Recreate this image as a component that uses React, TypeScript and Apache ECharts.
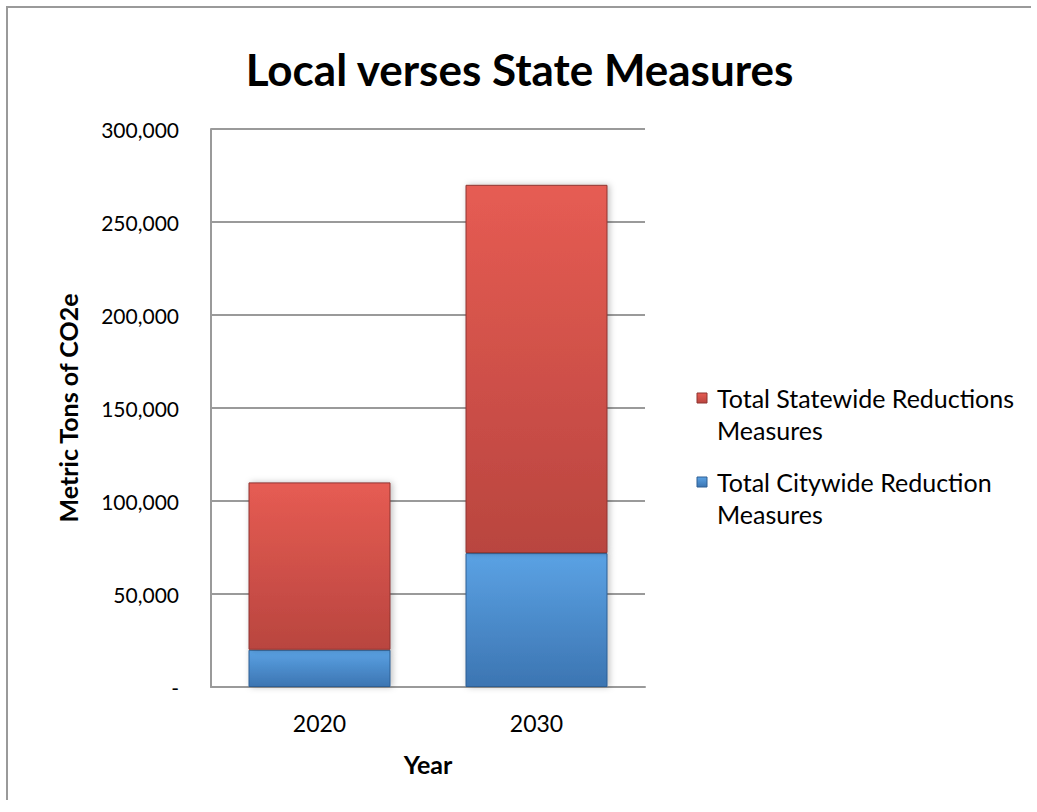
import React, { useEffect, useRef } from "react";
import * as echarts from "echarts";

const years = ["2020", "2030"];
const citywide = [20000, 72000];
const statewide = [90000, 198000];
const seriesNames = ["Total Statewide Reductions Measures", "Total Citywide Reduction Measures"];
const legendLines = [
  ["Total Statewide Reductions", "Measures"],
  ["Total Citywide Reduction", "Measures"],
];

const FONT = "Lato, 'Open Sans', sans-serif";

function grad(top: string, bottom: string) {
  return new echarts.graphic.LinearGradient(0, 0, 0, 1, [
    { offset: 0, color: top },
    { offset: 1, color: bottom },
  ]);
}

const redFill = () => grad("#e65c53", "#b9453f");
const blueFill = () => grad("#5ba2e4", "#3c75b2");

export default function App() {
  const ref = useRef<HTMLDivElement>(null);
  useEffect(() => {
    if (!ref.current) return;
    const chart = echarts.init(ref.current, null, { renderer: "svg" });
    const legendFills = [redFill(), blueFill()];
    const legendBorders = ["#8e3531", "#2f5f93"];
    const legendGraphics: any[] = [];
    legendLines.forEach((lines, i) => {
      const y0 = 390 + i * 84;
      legendGraphics.push({
        type: "rect",
        shape: { x: 689, y: y0 - 5, width: 10, height: 10 },
        style: { fill: legendFills[i], stroke: legendBorders[i], lineWidth: 1 },
      });
      legendGraphics.push({
        type: "text",
        x: 709,
        y: y0 - 16,
        style: {
          text: lines.join("\n"),
          font: `25px ${FONT}`,
          fill: "#000",
          lineHeight: 32,
          verticalAlign: "top",
        },
      });
    });
    chart.setOption({
      animation: false,
      backgroundColor: "#fff",
      graphic: legendGraphics,
      title: {
        text: "Local verses State Measures",
        left: "center",
        top: 34,
        textStyle: { fontFamily: FONT, fontSize: 44, fontWeight: "bold", color: "#000" },
      },
      grid: { left: 203, right: 386, top: 121, bottom: 113, containLabel: false },
      xAxis: {
        type: "category",
        data: years,
        name: "Year",
        nameLocation: "middle",
        nameGap: 64,
        nameTextStyle: { fontFamily: FONT, fontSize: 25, fontWeight: "bold", color: "#000" },
        axisLine: { lineStyle: { color: "#9a9a9a", width: 2 } },
        axisTick: { show: false },
        axisLabel: { fontFamily: FONT, fontSize: 23, color: "#000", margin: 24 },
      },
      yAxis: {
        type: "value",
        min: 0,
        max: 300000,
        interval: 50000,
        name: "Metric Tons of CO2e",
        nameLocation: "middle",
        nameGap: 131,
        nameTextStyle: { fontFamily: FONT, fontSize: 25, fontWeight: "bold", color: "#000" },
        axisLine: { show: true, lineStyle: { color: "#9a9a9a", width: 2 } },
        axisTick: { show: false },
        axisLabel: {
          fontFamily: FONT,
          fontSize: 21,
          color: "#000",
          margin: 32,
          formatter: (v: number) => (v === 0 ? "-" : v.toLocaleString("en-US")),
        },
        splitLine: { lineStyle: { color: "#9a9a9a", width: 2 } },
      },
      series: [
        {
          name: seriesNames[1],
          type: "bar",
          stack: "total",
          barWidth: 142,
          data: citywide,
          itemStyle: {
            color: blueFill(),
            borderColor: "#2f5f93",
            borderWidth: 1,
            shadowColor: "rgba(0,0,0,0.25)",
            shadowBlur: 6,
            shadowOffsetX: 2,
          },
        },
        {
          name: seriesNames[0],
          type: "bar",
          stack: "total",
          barWidth: 142,
          data: statewide,
          itemStyle: {
            color: redFill(),
            borderColor: "#8e3531",
            borderWidth: 1,
            shadowColor: "rgba(0,0,0,0.25)",
            shadowBlur: 6,
            shadowOffsetX: 2,
          },
        },
      ],
    });
    return () => chart.dispose();
  }, []);
  return (
    <div
      style={{
        position: "absolute",
        left: 6,
        top: 6,
        borderLeft: "2px solid #9a9a9a",
        borderTop: "2px solid #9a9a9a",
        width: 1023,
        height: 792,
        background: "#fff",
      }}
    >
      <div ref={ref} style={{ width: 1023, height: 792 }} />
    </div>
  );
}
